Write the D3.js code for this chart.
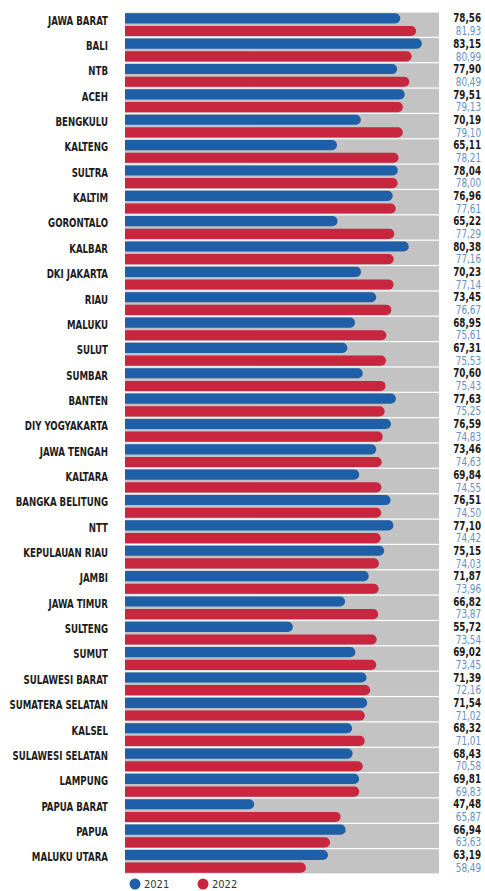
<!DOCTYPE html>
<html>
<head>
<meta charset="utf-8">
<script src="https://cdn.jsdelivr.net/npm/d3@7/dist/d3.min.js"></script>
<style>
  html, body { margin: 0; padding: 0; background: #fff; }
  svg { display: block; }
  .prov { font-family: "DejaVu Sans Condensed", "DejaVu Sans", sans-serif; font-weight: bold; font-size: 12px; fill: #1c1c1c; }
  .val { font-family: "DejaVu Sans Condensed", "DejaVu Sans", sans-serif; font-size: 11.5px; }
  .leg { font-family: "DejaVu Sans Condensed", "DejaVu Sans", sans-serif; font-size: 11px; fill: #333; }
</style>
</head>
<body>
<svg id="chart" width="485" height="891"></svg>
<script>
// Provinces, ordered by the 2022 score
const provinces = [
  "JAWA BARAT", "BALI", "NTB", "ACEH", "BENGKULU", "KALTENG", "SULTRA", "KALTIM",
  "GORONTALO", "KALBAR", "DKI JAKARTA", "RIAU", "MALUKU", "SULUT", "SUMBAR", "BANTEN",
  "DIY YOGYAKARTA", "JAWA TENGAH", "KALTARA", "BANGKA BELITUNG", "NTT", "KEPULAUAN RIAU",
  "JAMBI", "JAWA TIMUR", "SULTENG", "SUMUT", "SULAWESI BARAT", "SUMATERA SELATAN",
  "KALSEL", "SULAWESI SELATAN", "LAMPUNG", "PAPUA BARAT", "PAPUA", "MALUKU UTARA"
];
const values2021 = [
  78.56, 83.15, 77.90, 79.51, 70.19, 65.11, 78.04, 76.96,
  65.22, 80.38, 70.23, 73.45, 68.95, 67.31, 70.60, 77.63,
  76.59, 73.46, 69.84, 76.51, 77.10, 75.15,
  71.87, 66.82, 55.72, 69.02, 71.39, 71.54,
  68.32, 68.43, 69.81, 47.48, 66.94, 63.19
];
const values2022 = [
  81.93, 80.99, 80.49, 79.13, 79.10, 78.21, 78.00, 77.61,
  77.29, 77.16, 77.14, 76.67, 75.61, 75.53, 75.43, 75.25,
  74.83, 74.63, 74.55, 74.50, 74.42, 74.03,
  73.96, 73.87, 73.54, 73.45, 72.16, 71.02,
  71.01, 70.58, 69.83, 65.87, 63.63, 58.49
];
const years = ["2021", "2022"];
const xDomain = [20, 86.8];

const barColor = { "2021": "#1f5fa8", "2022": "#c8253f" };
const valColor = { "2021": "#1a1a1a", "2022": "#5f8fc4" };

const svg = d3.select("#chart");

const x = d3.scaleLinear().domain(xDomain).range([125, 439]);
const y = d3.scaleBand().domain(provinces).range([12, 874]).padding(0);
const yy = d3.scaleBand().domain(years).range([0, y.bandwidth()]).paddingInner(0.2).paddingOuter(0.1);

const rows = provinces.map((p, i) => ({
  name: p,
  bars: [
    { year: "2021", value: values2021[i] },
    { year: "2022", value: values2022[i] }
  ]
}));

const fmt = v => d3.format(".2f")(v).replace(".", ",");

// Bar with a square left edge and a rounded right end
function roundedBar(x0, x1, yTop, h) {
  const r = Math.min(h / 2, (x1 - x0));
  return `M${x0},${yTop}H${x1 - r}A${r},${r} 0 0 1 ${x1},${yTop + r}` +
         `V${yTop + h - r}A${r},${r} 0 0 1 ${x1 - r},${yTop + h}H${x0}Z`;
}

const g = svg.append("g");

const row = g.selectAll("g.row").data(rows).join("g")
  .attr("class", "row")
  .attr("transform", d => `translate(0,${y(d.name)})`);

// grey track behind both bars of a province
row.append("rect")
  .attr("x", x(xDomain[0]))
  .attr("y", 0.6)
  .attr("width", x(xDomain[1]) - x(xDomain[0]))
  .attr("height", y.bandwidth() - 1.2)
  .attr("fill", "#c3c3c3");

row.selectAll("path.bar").data(d => d.bars).join("path")
  .attr("class", "bar")
  .attr("d", b => roundedBar(x(xDomain[0]), x(b.value), yy(b.year), yy.bandwidth()))
  .attr("fill", b => barColor[b.year]);

// value labels, narrowed horizontally
row.selectAll("text.val").data(d => d.bars).join("text")
  .attr("class", "val")
  .attr("transform", b => `translate(481,${yy(b.year) + yy.bandwidth() / 2}) scale(0.85,1)`)
  .attr("dy", "0.36em")
  .attr("text-anchor", "end")
  .attr("fill", b => valColor[b.year])
  .attr("font-weight", b => b.year === "2021" ? "bold" : "normal")
  .text(b => fmt(b.value));

// province names, condensed
row.append("text")
  .attr("class", "prov")
  .attr("transform", `translate(108,${yy("2021") + yy.bandwidth() / 2 + 2}) scale(0.8,1)`)
  .attr("dy", "0.36em")
  .attr("text-anchor", "end")
  .text(d => d.name);

// legend
const legend = svg.append("g").attr("transform", "translate(0,884)");
const legX = { "2021": 135, "2022": 203 };
years.forEach(yr => {
  legend.append("circle").attr("cx", legX[yr]).attr("cy", 0).attr("r", 5.5).attr("fill", barColor[yr]);
  legend.append("text").attr("class", "leg").attr("x", legX[yr] + 9).attr("y", 0).attr("dy", "0.36em").text(yr);
});
</script>
</body>
</html>
